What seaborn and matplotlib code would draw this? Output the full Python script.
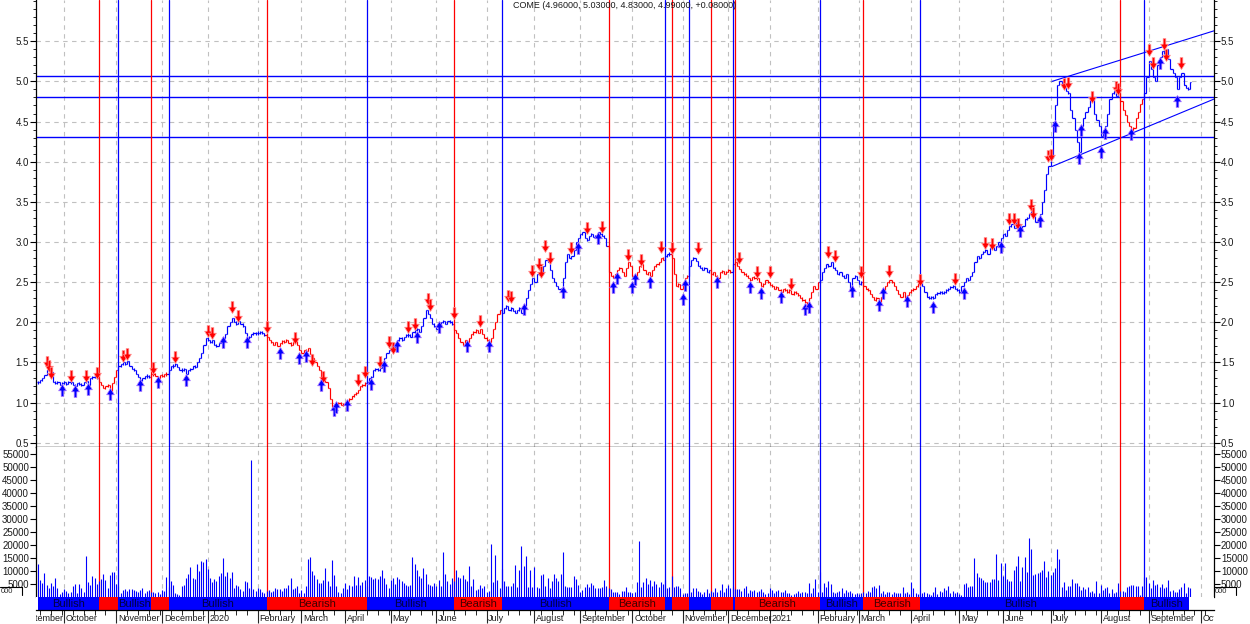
import numpy as np
import seaborn as sns
import matplotlib
matplotlib.use('Agg')
import matplotlib.pyplot as plt
from matplotlib.path import Path
from matplotlib.lines import Line2D
from matplotlib.ticker import MultipleLocator, FormatStrFormatter, FixedLocator

sns.set_style('white')
plt.rcParams['font.family'] = ['Liberation Sans', 'DejaVu Sans']

title = 'COME (4.96000, 5.03000, 4.83000, 4.99000, +0.08000)'

# daily closes, one row = 10 bars (Sep 2019 -> Sep 2021)
close = [
    1.25, 1.28, 1.30, 1.34, 1.40, 1.42, 1.38, 1.26, 1.24, 1.25,
    1.22, 1.24, 1.25, 1.23, 1.26, 1.25, 1.22, 1.20, 1.24, 1.23,
    1.22, 1.25, 1.27, 1.22, 1.30, 1.32, 1.33, 1.30, 1.26, 1.22,
    1.18, 1.20, 1.22, 1.14, 1.24, 1.32, 1.40, 1.45, 1.48, 1.50,
    1.48, 1.52, 1.45, 1.42, 1.40, 1.36, 1.32, 1.28, 1.30, 1.33,
    1.33, 1.32, 1.35, 1.36, 1.33, 1.30, 1.34, 1.33, 1.35, 1.36,
    1.40, 1.45, 1.46, 1.48, 1.44, 1.40, 1.41, 1.42, 1.36, 1.40,
    1.42, 1.45, 1.44, 1.50, 1.55, 1.62, 1.72, 1.80, 1.78, 1.75,
    1.78, 1.72, 1.70, 1.74, 1.78, 1.80, 1.85, 1.95, 2.00, 2.05,
    2.00, 1.98, 2.02, 1.98, 1.95, 1.86, 1.80, 1.82, 1.85, 1.86,
    1.86, 1.87, 1.88, 1.86, 1.84, 1.82, 1.78, 1.75, 1.72, 1.75,
    1.70, 1.74, 1.77, 1.76, 1.78, 1.74, 1.72, 1.75, 1.77, 1.72,
    1.65, 1.62, 1.66, 1.64, 1.68, 1.60, 1.55, 1.50, 1.45, 1.40,
    1.30, 1.32, 1.25, 1.18, 1.05, 0.95, 0.92, 0.98, 1.00, 0.97,
    0.98, 1.00, 1.02, 1.05, 1.08, 1.10, 1.12, 1.15, 1.20, 1.22,
    1.24, 1.26, 1.30, 1.32, 1.40, 1.42, 1.40, 1.43, 1.50, 1.55,
    1.62, 1.65, 1.68, 1.66, 1.72, 1.78, 1.80, 1.78, 1.82, 1.84,
    1.84, 1.82, 1.88, 1.90, 1.92, 1.88, 1.95, 2.05, 2.15, 2.10,
    2.05, 1.98, 1.95, 1.92, 1.94, 2.00, 2.02, 1.98, 2.02, 2.00,
    1.98, 1.90, 1.86, 1.80, 1.75, 1.72, 1.78, 1.75, 1.80, 1.85,
    1.88, 1.90, 1.86, 1.92, 1.85, 1.80, 1.78, 1.76, 1.80, 1.92,
    2.00, 2.10, 2.15, 2.12, 2.18, 2.20, 2.15, 2.18, 2.14, 2.12,
    2.15, 2.18, 2.12, 2.20, 2.30, 2.40, 2.48, 2.55, 2.50, 2.60,
    2.62, 2.60, 2.70, 2.78, 2.75, 2.65, 2.55, 2.50, 2.45, 2.42,
    2.40, 2.55, 2.75, 2.85, 2.80, 2.82, 2.90, 3.00, 3.05, 3.10,
    3.12, 3.05, 3.02, 3.08, 3.10, 3.06, 3.08, 3.12, 3.10, 3.08,
    3.05, 2.95, 2.62, 2.58, 2.55, 2.60, 2.65, 2.68, 2.62, 2.58,
    2.68, 2.75, 2.70, 2.58, 2.55, 2.62, 2.70, 2.72, 2.65, 2.60,
    2.62, 2.58, 2.65, 2.70, 2.72, 2.75, 2.80, 2.78, 2.82, 2.85,
    2.85, 2.80, 2.60, 2.45, 2.48, 2.42, 2.50, 2.55, 2.58, 2.70,
    2.78, 2.80, 2.76, 2.70, 2.68, 2.65, 2.68, 2.62, 2.65, 2.60,
    2.62, 2.58, 2.55, 2.62, 2.64, 2.60, 2.63, 2.65, 2.62, 2.72,
    2.75, 2.70, 2.66, 2.62, 2.60, 2.58, 2.55, 2.52, 2.56, 2.55,
    2.55, 2.50, 2.45, 2.48, 2.52, 2.50, 2.46, 2.45, 2.42, 2.44,
    2.40, 2.38, 2.42, 2.40, 2.38, 2.40, 2.35, 2.38, 2.36, 2.34,
    2.30, 2.28, 2.25, 2.22, 2.30, 2.38, 2.45, 2.42, 2.50, 2.52,
    2.62, 2.68, 2.72, 2.70, 2.75, 2.68, 2.65, 2.60, 2.62, 2.58,
    2.55, 2.60, 2.50, 2.42, 2.55, 2.58, 2.52, 2.48, 2.50, 2.45,
    2.42, 2.40, 2.35, 2.32, 2.28, 2.30, 2.25, 2.32, 2.40, 2.45,
    2.50, 2.52, 2.50, 2.45, 2.40, 2.35, 2.32, 2.38, 2.30, 2.34,
    2.38, 2.40, 2.42, 2.45, 2.48, 2.50, 2.45, 2.38, 2.32, 2.30,
    2.32, 2.30, 2.35, 2.36, 2.38, 2.36, 2.38, 2.40, 2.42, 2.44,
    2.45, 2.42, 2.40, 2.38, 2.45, 2.50, 2.55, 2.52, 2.58, 2.62,
    2.75, 2.82, 2.80, 2.85, 2.88, 2.90, 2.85, 2.92, 2.95, 2.90,
    2.95, 3.00, 3.05, 3.10, 3.08, 3.15, 3.20, 3.22, 3.18, 3.25,
    3.22, 3.15, 3.20, 3.28, 3.30, 3.35, 3.38, 3.32, 3.25, 3.30,
    3.35, 3.50, 3.65, 3.85, 3.95, 4.05, 4.50, 4.70, 4.95, 5.00,
    4.95, 4.92, 4.88, 4.85, 4.65, 4.55, 4.40, 4.25, 4.12, 4.45,
    4.55, 4.62, 4.68, 4.80, 4.78, 4.60, 4.52, 4.45, 4.32, 4.40,
    4.45, 4.60, 4.78, 4.85, 4.88, 4.82, 4.85, 4.75, 4.65, 4.58,
    4.50, 4.45, 4.40, 4.42, 4.55, 4.62, 4.72, 4.78, 4.85, 5.05,
    5.25, 5.15, 5.05, 5.00, 5.20, 5.30, 5.38, 5.35, 5.40, 5.28,
    5.15, 5.10, 5.05, 4.90, 5.05, 5.10, 4.95, 4.92, 4.91, 4.99,
]

# daily volume in thousands
volume_k = [
    12.7, 6.5, 5.5, 9.1, 4.6, 3.6, 5.3, 4.2, 7.4, 3.6, 1.2, 2.0, 3.1, 2.4,
    1.7, 2.0, 4.4, 5.0, 1.7, 5.0, 3.6, 2.0, 15.8, 5.6, 4.6, 8.1, 7.4, 5.2,
    6.1, 6.8, 8.8, 6.5, 3.6, 8.5, 9.6, 9.6, 5.0, 4.2, 1.4, 2.7, 2.9, 2.5,
    2.9, 2.9, 2.7, 2.3, 2.0, 2.7, 3.3, 1.7, 2.3, 2.7, 2.0, 2.0, 1.4, 1.9,
    1.2, 2.7, 2.4, 7.8, 4.0, 6.1, 4.6, 1.7, 1.2, 0.8, 4.4, 4.6, 7.4, 9.0,
    11.7, 7.4, 6.8, 12.7, 10.1, 14.0, 13.6, 14.6, 10.8, 7.4, 5.6, 6.8, 6.1, 8.0,
    9.4, 15.1, 8.2, 9.7, 7.2, 9.7, 3.6, 4.6, 4.4, 3.0,
    2.3, 6.1, 5.9, 3.6, 52.7,
    3.1, 2.4, 3.3, 2.9, 2.0, 1.7, 2.4, 2.7, 2.0, 2.4, 3.6, 2.9, 2.9, 2.2,
    3.6, 3.3, 4.6, 7.4, 2.9, 3.6, 4.2, 1.7, 2.7, 1.7, 4.4, 14.6, 15.5, 10.0,
    8.5, 6.8, 5.5, 5.5, 6.5, 11.3, 6.1, 4.2, 14.2, 8.5, 4.2, 1.8, 1.7, 3.5,
    5.3, 2.9, 4.6, 4.4, 8.1, 4.6, 7.8, 4.6, 5.9, 6.5, 4.4, 8.1, 7.8, 7.0,
    7.4, 6.8, 8.1, 10.4, 7.4, 5.0, 3.6, 6.5, 7.4, 5.0, 7.8, 6.8, 6.1, 5.5,
    4.6, 4.4, 4.6, 15.3, 12.7,
    10.4, 8.1, 7.4, 11.3, 8.8, 5.0, 4.8,
    4.4, 5.3, 4.4, 6.5, 4.4, 17.4, 8.8, 6.0,
    5.0, 7.2, 6.3, 10.4, 7.8, 7.4, 8.5, 7.0,
    6.1, 11.9, 4.4, 6.8, 2.7, 3.1, 4.6, 3.5,
    4.4, 2.0, 2.4, 20.4, 5.9, 16.1, 6.5, 3.6, 10.8, 6.1, 4.2, 4.2, 4.2, 5.3,
    12.3, 3.7, 10.4, 19.6, 12.0,
    15.7, 4.0, 10.4, 4.0, 11.7, 4.0, 3.3, 8.5, 8.7, 4.2, 7.4, 3.3, 6.3, 8.8, 7.4, 6.0,
    8.8, 17.3, 4.2, 3.7, 4.0, 3.7, 8.1, 6.8, 4.6, 2.0, 2.7, 4.0, 5.0, 4.0, 5.5, 4.5,
    3.6, 3.6, 3.3, 4.0, 6.5, 4.2, 3.6, 2.9, 1.8, 1.8, 1.8, 1.0, 2.4, 2.5,
    4.0, 2.0, 1.8, 1.7, 1.8, 5.6, 21.6, 4.0, 5.6, 7.2, 5.0, 6.5, 4.4, 6.3, 5.0, 4.0, 5.9, 5.0,
    6.5, 3.6, 3.7, 8.1, 4.0, 4.2, 4.2, 3.3, 1.2, 1.4, 1.5,
    0.8, 2.0, 3.3, 3.3, 2.4, 1.8, 1.2, 1.8, 2.9, 1.7, 2.2,
    2.0, 3.3, 2.0, 2.7, 5.0, 1.8, 3.3, 4.6, 3.6, 4.0, 3.0,
    2.9, 2.9, 2.4, 3.3, 4.2, 1.4, 2.7, 2.4, 2.7, 2.0, 2.2,
    2.9, 1.8, 1.2, 1.7, 3.3, 2.7, 1.7, 2.4, 2.7, 1.8, 2.0,
    2.7, 1.4, 1.7, 0.8, 1.2, 1.7, 2.4, 1.4, 2.0, 1.8, 1.6,
    5.3, 1.7, 3.3, 6.8, 2.0,
    9.7, 2.0, 5.5, 4.0, 6.1, 5.0, 2.0, 1.4, 2.0, 2.3, 3.6, 1.4, 2.7, 2.0, 2.4, 1.6,
    1.2, 1.7, 1.2, 1.7, 1.8, 1.4, 2.4, 2.0, 4.0, 4.4, 3.6, 4.6, 1.7, 2.3, 1.0, 1.8,
    2.0, 1.2, 2.0, 1.4, 1.7, 1.4, 4.0, 1.4, 1.8, 1.0, 5.9, 3.3, 1.7, 1.2, 1.2, 1.5,
    2.0, 1.4, 1.0, 0.8, 2.0, 4.0, 1.2, 2.4, 2.0, 3.3, 2.7, 4.4, 1.7, 2.4, 1.4, 2.0,
    1.2, 0.8, 5.0, 5.3, 4.0, 4.2, 4.2, 15.1, 9.3, 7.8, 7.4, 6.5, 5.9, 5.9, 5.6, 7.0,
    6.8, 16.5, 6.5, 13.2, 8.1, 13.2, 6.8, 6.3, 6.3, 10.6, 12.0,
    15.9, 6.3, 11.6, 15.5, 9.7, 22.8, 18.7, 8.4, 8.7, 9.1, 9.7, 10.4, 14.0, 7.8, 10.1, 8.5,
    9.7, 11.0, 18.6, 14.8, 4.0, 5.9, 2.7, 4.2, 4.2, 7.0, 5.5, 5.5, 4.2, 2.7, 4.0, 3.0,
    4.0, 2.0, 2.4, 1.7, 6.3, 1.7, 4.5, 2.7, 3.3, 4.0, 1.4, 3.2, 1.4, 2.0, 5.3, 2.2,
    2.4, 2.0, 3.7, 4.4, 4.6, 4.6, 4.2, 4.4, 0.8, 4.4, 7.8, 7.6, 5.3, 3.3, 6.5, 4.5,
    5.0, 4.0, 5.0, 3.3, 3.8, 6.5, 2.4, 2.7, 2.0, 2.0, 3.0,
    4.0, 5.5, 1.4, 4.0, 3.3,
]

# trend regimes (bar where each one starts)
regime_start = [0, 28, 37, 52, 60, 105, 151, 191, 213, 262, 288, 291, 299,
                309, 319, 320, 359, 379, 405, 497, 508]
regime_kind = ['Bullish', 'Bearish', 'Bullish', 'Bearish', 'Bullish', 'Bearish',
               'Bullish', 'Bearish', 'Bullish', 'Bearish', 'Bullish', 'Bearish',
               'Bullish', 'Bearish', 'Bullish', 'Bearish', 'Bullish', 'Bearish',
               'Bullish', 'Bearish', 'Bullish']

# month axis
month_bar = [-9, 12, 36, 57, 78, 101, 121, 141, 162, 183, 206, 228, 249, 273,
             296, 317, 336, 358, 377, 401, 423, 443, 465, 488, 510, 534]
month_name = ['September', 'October', 'November', 'December', '2020', 'February',
              'March', 'April', 'May', 'June', 'July', 'August', 'September',
              'October', 'November', 'December', '2021', 'February', 'March',
              'April', 'May', 'June', 'July', 'August', 'September', 'October']

# signal arrows
sell_bar = [4, 5, 6, 15, 22, 27, 39, 41, 53, 63, 78, 80, 89, 92, 105, 118, 126,
            131, 147, 150, 157, 161, 163, 170, 173, 179, 180, 191, 203, 216, 217,
            227, 230, 231, 233, 235, 245, 252, 259, 271, 277, 286, 291, 303, 322,
            330, 336, 346, 363, 366, 378, 391, 405, 421, 435, 438, 446, 448, 450,
            456, 457, 464, 465, 471, 473, 484, 495, 496, 510, 512, 517, 518, 525]
sell_price = [1.50, 1.45, 1.37, 1.33, 1.33, 1.37, 1.58, 1.61, 1.43, 1.57, 1.89,
              1.87, 2.19, 2.08, 1.94, 1.80, 1.53, 1.32, 1.28, 1.38, 1.51, 1.76,
              1.68, 1.94, 1.98, 2.29, 2.21, 2.12, 2.02, 2.33, 2.31, 2.64, 2.73,
              2.63, 2.95, 2.80, 2.93, 3.18, 3.19, 2.84, 2.78, 2.94, 2.92, 2.92,
              2.80, 2.62, 2.63, 2.48, 2.88, 2.82, 2.62, 2.64, 2.53, 2.54, 2.99,
              2.98, 3.29, 3.29, 3.23, 3.46, 3.36, 4.07, 4.08, 4.97, 4.98, 4.81,
              4.93, 4.90, 5.39, 5.23, 5.46, 5.33, 5.23]
buy_bar = [11, 17, 23, 33, 47, 55, 68, 85, 96, 111, 120, 123, 130, 136, 137, 142,
           153, 159, 165, 174, 184, 197, 207, 223, 241, 248, 257, 264, 266, 273,
           274, 281, 296, 297, 312, 327, 332, 341, 352, 354, 374, 386, 388, 399,
           411, 425, 442, 451, 460, 467, 478, 479, 488, 490, 502, 515, 523]
buy_price = [1.15, 1.14, 1.17, 1.11, 1.22, 1.26, 1.28, 1.75, 1.76, 1.62, 1.55,
             1.58, 1.22, 0.91, 0.95, 0.97, 1.23, 1.46, 1.71, 1.82, 1.94, 1.71,
             1.71, 2.16, 2.38, 2.93, 3.05, 2.44, 2.55, 2.44, 2.54, 2.50, 2.29,
             2.46, 2.50, 2.44, 2.37, 2.32, 2.16, 2.19, 2.39, 2.21, 2.37, 2.26,
             2.19, 2.37, 2.94, 3.14, 3.26, 4.44, 4.04, 4.39, 4.12, 4.36, 4.35,
             5.23, 4.75]

# support / resistance levels and trend channel
levels = [5.07, 4.81, 4.31]
channel_bar = [465.6, 540.0]
channel_top = [5.00, 5.63]
channel_bottom = [3.94, 4.78]

BLUE = '#0000ff'
RED = '#ff0000'
GRID = '#c0c0c0'
W, H = 1250, 624
X0, X1 = -0.86, 540.0


def box(x0, y0, x1, y1):
    return [x0 / W, 1 - y1 / H, (x1 - x0) / W, (y1 - y0) / H]


fig = plt.figure(figsize=(12.5, 6.24), dpi=100)
ax_p = fig.add_axes(box(36, 0, 1214, 447))
ax_v = fig.add_axes(box(36, 447, 1214, 597))
ax_b = fig.add_axes(box(36, 597, 1214, 610))
ax_l = fig.add_axes(box(36, 610, 1214, 632))

n = len(close)
bars = np.arange(n)
close_a = np.array(close)
open_a = np.r_[close_a[0], close_a[:-1]]
low = np.minimum(open_a, close_a)
high = np.maximum(open_a, close_a)
# keep very small moves visible as a short bar
mid = (low + high) / 2
short = high - low < 0.04
low = np.where(short, mid - 0.02, low)
high = np.where(short, mid + 0.02, high)
reg = np.searchsorted(regime_start, bars, side='right') - 1
bar_col = [RED if regime_kind[r] == 'Bearish' else BLUE for r in reg]

# ---- price panel
ax_p.vlines(bars, low, high, colors=bar_col, lw=0.85, zorder=3)
ax_p.hlines(close_a, bars, bars + 0.55, colors=bar_col, lw=0.85, zorder=3)
ax_p.hlines(open_a, bars - 0.55, bars, colors=bar_col, lw=0.85, zorder=3)

for lv in levels:
    ax_p.axhline(lv, color=BLUE, lw=1.0, zorder=2)
sns.lineplot(x=channel_bar, y=channel_top, ax=ax_p, color=BLUE, lw=0.8)
sns.lineplot(x=channel_bar, y=channel_bottom, ax=ax_p, color=BLUE, lw=0.8)

down_arrow = Path([(-0.22, 1.0), (0.22, 1.0), (0.22, 0.05), (0.65, 0.05), (0.0, -1.0),
                   (-0.65, 0.05), (-0.22, 0.05), (-0.22, 1.0)],
                  [Path.MOVETO] + [Path.LINETO] * 6 + [Path.CLOSEPOLY])
up_arrow = Path(down_arrow.vertices * [1, -1], down_arrow.codes)
sns.scatterplot(x=sell_bar, y=sell_price, ax=ax_p, marker=down_arrow, s=75,
                color=RED, edgecolor='#ff9c9c', linewidth=0.5, zorder=5)
sns.scatterplot(x=buy_bar, y=buy_price, ax=ax_p, marker=up_arrow, s=75,
                color=BLUE, edgecolor='#b27cff', linewidth=0.5, zorder=5)

ax_p.set_ylim(0.446, 6.014)
ax_p.set_yticks(np.arange(0.5, 5.51, 0.5))
ax_p.yaxis.set_minor_locator(MultipleLocator(0.1))
ax_p.yaxis.set_major_formatter(FormatStrFormatter('%.1f'))

# ---- volume panel
ax_v.vlines(bars, 0, np.array(volume_k) * 1000, colors=BLUE, lw=0.8, zorder=3)
ax_v.set_ylim(0, 57840)
ax_v.set_yticks(np.arange(5000, 55001, 5000))
ax_v.yaxis.set_major_formatter(FormatStrFormatter('%d'))

for ax in (ax_p, ax_v):
    ax.set_xlim(X0, X1)
    ax.xaxis.set_major_locator(FixedLocator(month_bar))
    ax.tick_params(axis='x', length=0, labelbottom=False)
    ax.grid(True, axis='x', ls=(0, (4, 4)), color=GRID, lw=0.8)
    ax.tick_params(axis='y', which='both', left=True, right=True,
                   labelleft=True, labelright=True, direction='out',
                   labelsize=7, pad=1, colors='black', labelcolor='#1a1a1a')
    ax.tick_params(axis='y', which='major', length=4, width=0.8)
    ax.tick_params(axis='y', which='minor', length=2.5, width=0.6)
    for s in ('left', 'right'):
        ax.spines[s].set_color('black')
        ax.spines[s].set_linewidth(0.9)
    ax.spines['top'].set_visible(False)
    for k, start in enumerate(regime_start[1:], start=1):
        ax.axvline(start, color=RED if regime_kind[k] == 'Bearish' else BLUE,
                   lw=0.9, zorder=2)
ax_p.grid(True, axis='y', ls=(0, (4, 4)), color=GRID, lw=0.8)
ax_p.spines['bottom'].set_color('black')
ax_p.spines['bottom'].set_linewidth(1.0)
ax_v.spines['bottom'].set_visible(False)

# ---- regime band
ends = regime_start[1:] + [n - 1.5]
for start, end, kind in zip(regime_start, ends, regime_kind):
    ax_b.axvspan(start, end, color=RED if kind == 'Bearish' else BLUE, lw=0)
    if end - start >= 12:
        ax_b.text((start + end) / 2, 0.45, kind, ha='center', va='center',
                  fontsize=8, color='black', alpha=0.75, clip_on=True)
ax_b.set_xlim(X0, X1)
ax_b.set_ylim(0, 1)
ax_b.set_yticks([])
ax_b.xaxis.set_major_locator(FixedLocator(month_bar))
ax_b.xaxis.set_minor_locator(MultipleLocator(5, offset=1))
ax_b.tick_params(axis='x', which='major', length=9, width=0.8, direction='out',
                 labelbottom=False, bottom=True)
ax_b.tick_params(axis='x', which='minor', length=3.5, width=0.7, direction='out',
                 bottom=True)
for s in ('top', 'left', 'right'):
    ax_b.spines[s].set_visible(False)
ax_b.spines['bottom'].set_color('black')
ax_b.spines['bottom'].set_linewidth(0.9)

# ---- month labels (clipped to the plot width)
ax_l.set_xlim(X0, X1)
ax_l.set_ylim(0, 1)
ax_l.axis('off')
for mb, name in zip(month_bar, month_name):
    ax_l.text(mb + 0.8, 0.84, name, ha='left', va='top', fontsize=6.5,
              color='#1a1a1a', clip_on=True)

# ---- title and small scale boxes
fig.text(625 / W, 1 - 1 / H, title, ha='center', va='top', fontsize=6.5,
         color='#1a1a1a')
for xa, xb in ((0, 22), (1214, 1236)):
    fig.add_artist(Line2D([xa / W, xb / W], [1 - 587 / H, 1 - 587 / H],
                          color='black', lw=0.8))
    fig.add_artist(Line2D([xb / W, xb / W], [1 - 587 / H, 1 - 595 / H],
                          color='black', lw=0.8))
fig.text(0.5 / W, 1 - 588 / H, '000', ha='left', va='top', fontsize=5.5)
fig.text(1215 / W, 1 - 588 / H, '000', ha='left', va='top', fontsize=5.5)

fig.savefig('out.png', dpi=100)
